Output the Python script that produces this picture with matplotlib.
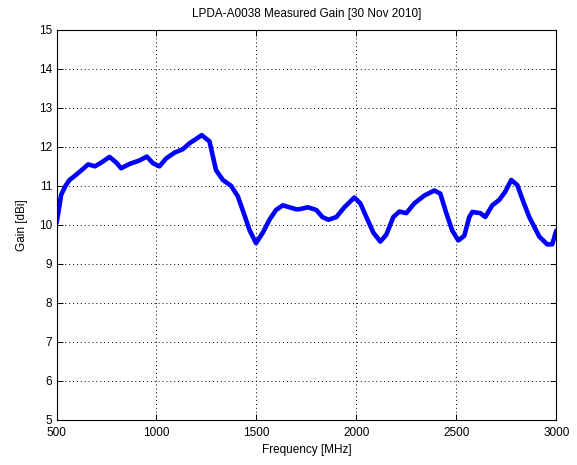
import matplotlib
matplotlib.use("Agg")
from matplotlib import pyplot as plt

# values
freq_mhz = [500, 515, 523, 545, 565, 590, 625, 658, 692, 725, 765, 798, 823, 865,
            915, 952, 982, 1015, 1048, 1090, 1132, 1165, 1198, 1226, 1265, 1298,
            1332, 1373, 1407, 1440, 1465, 1498, 1532, 1565, 1598, 1632, 1698, 1715,
            1757, 1800, 1830, 1860, 1900, 1940, 1990, 2020, 2050, 2085, 2120, 2150,
            2185, 2215, 2250, 2290, 2340, 2390, 2420, 2450, 2480, 2510, 2540, 2565,
            2580, 2620, 2645, 2680, 2715, 2745, 2775, 2805, 2835, 2865, 2915, 2955,
            2980, 3000]
gain_dbi = [10.05, 10.5, 10.77, 11.0, 11.15, 11.25, 11.4, 11.55, 11.5, 11.6, 11.74,
            11.6, 11.45, 11.56, 11.65, 11.75, 11.58, 11.5, 11.7, 11.85, 11.94, 12.09,
            12.2, 12.3, 12.14, 11.4, 11.15, 11.0, 10.73, 10.25, 9.87, 9.53, 9.8,
            10.13, 10.38, 10.5, 10.4, 10.4, 10.45, 10.38, 10.2, 10.13, 10.2, 10.45,
            10.7, 10.55, 10.2, 9.8, 9.57, 9.75, 10.2, 10.34, 10.3, 10.55, 10.75,
            10.88, 10.8, 10.3, 9.85, 9.6, 9.72, 10.2, 10.33, 10.3, 10.2, 10.5, 10.64,
            10.85, 11.15, 11.02, 10.6, 10.2, 9.7, 9.5, 9.5, 9.85]
x_ticks = [500, 1000, 1500, 2000, 2500, 3000]
y_ticks = list(range(5, 16))

plt.rcParams['font.family'] = ['Liberation Sans', 'DejaVu Sans']
plt.rcParams['font.size'] = 8.5

fig = plt.figure(figsize=(5.77, 4.65), dpi=100)
ax = fig.add_axes([0.098, 0.097, 0.866, 0.839])

ax.plot(freq_mhz, gain_dbi, color=(0, 0, 1), linewidth=3.3, solid_capstyle='round')

ax.set_xlim(500, 3000)
ax.set_ylim(5, 15)
ax.set_xticks(x_ticks)
ax.set_yticks(y_ticks)
ax.grid(True, color='black', linestyle=(0, (1, 3)), linewidth=0.7)
ax.tick_params(direction='in', top=True, right=True, length=4, width=0.7)
ax.tick_params(axis='x', pad=5)
ax.tick_params(axis='y', pad=3)
for sp in ax.spines.values():
    sp.set_linewidth(0.8)

ax.set_xlabel('Frequency [MHz]', labelpad=4)
ax.set_ylabel('Gain [dBi]', labelpad=8)
ax.set_title('LPDA-A0038 Measured Gain [30 Nov 2010]', fontsize=8.5, pad=9)

fig.savefig('out.png', dpi=100)
